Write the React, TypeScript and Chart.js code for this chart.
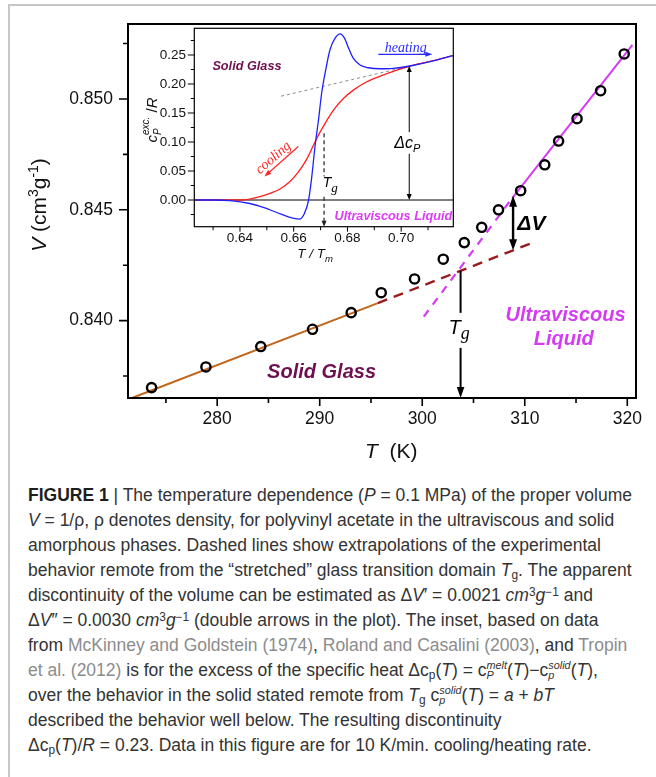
import React, { useEffect, useRef } from 'react';
import { Chart, registerables } from 'chart.js';

Chart.register(...registerables);

const SANS = '"Liberation Sans", Arial, Helvetica, sans-serif';
const SERIF = '"Liberation Serif", "Times New Roman", serif';

// ---------------- main panel data ----------------
const temperatureK = [273.6, 278.9, 284.25, 289.3, 293.07, 296.0, 299.25, 302.05, 304.1, 305.8, 307.44, 309.6, 311.95, 313.3, 315.1, 317.4, 319.7];
const specificVolume = [0.83698, 0.83791, 0.83883, 0.83961, 0.84036, 0.84126, 0.84188, 0.84277, 0.84352, 0.84421, 0.845, 0.84586, 0.84703, 0.8481, 0.84911, 0.85037, 0.85203];
const glassFitT = [271.74, 295.67];
const glassFitV = [0.83652, 0.84079];
const glassExtrapT = [295.67, 310.9];
const glassExtrapV = [0.84079, 0.84354];
const liquidFitT = [308.78, 320.5];
const liquidFitV = [0.84553, 0.85244];
const liquidExtrapT = [300.15, 308.78];
const liquidExtrapV = [0.84018, 0.84553];

const xRangeMain = [271.3, 320.85];
const yRangeMain = [0.83651, 0.85338];
const xTicksMain = [275, 280, 285, 290, 295, 300, 305, 310, 315, 320];
const xLabelsMain = [280, 290, 300, 310, 320];
const yTicksMain = [0.8375, 0.84, 0.8425, 0.845, 0.8475, 0.85, 0.8525];
const yLabelsMain = [0.84, 0.845, 0.85];

// annotations (data coordinates)
const tgArrowT = 303.74;
const tgArrowV = [0.84225, 0.84035, 0.83877];
const deltaVT = 308.86;
const deltaVV = [0.84318, 0.84563];
const solidGlassAt = [290.18, 0.83774];
const ultraviscousAt = [313.98, 0.8403];
const liquidAt = [313.81, 0.83922];
const deltaVLabelAt = [309.27, 0.84441];
const tgLabelAt = [302.57, 0.83972];

// ---------------- inset data ----------------
const heatX = [0.623, 0.63, 0.6363, 0.6437, 0.6487, 0.6537, 0.6586, 0.662, 0.6639, 0.6655, 0.6667, 0.6679, 0.6692, 0.6704, 0.6719, 0.6735, 0.6754, 0.6773, 0.6789, 0.6804, 0.6822, 0.6847, 0.6878, 0.6922, 0.6971, 0.7033, 0.7108, 0.7192];
const heatCp = [0, 0, -0.001, -0.006, -0.0128, -0.0215, -0.03, -0.033, -0.024, -0.001, 0.039, 0.091, 0.137, 0.184, 0.224, 0.259, 0.279, 0.2864, 0.279, 0.262, 0.244, 0.2327, 0.228, 0.2263, 0.227, 0.231, 0.2384, 0.2488];
const coolX = [0.623, 0.635, 0.64, 0.6437, 0.6475, 0.6512, 0.6549, 0.6586, 0.6617, 0.6649, 0.6673, 0.6698, 0.6723, 0.6748, 0.6785, 0.6822, 0.6872, 0.6922, 0.6984, 0.7046, 0.712, 0.7192];
const coolCp = [0, 0, 0, 0.0017, 0.0057, 0.0115, 0.019, 0.032, 0.048, 0.071, 0.094, 0.117, 0.137, 0.155, 0.175, 0.1894, 0.2038, 0.2136, 0.224, 0.2327, 0.2401, 0.2488];
const liquidBaseX = [0.6553, 0.7033];
const liquidBaseCp = [0.179, 0.231];
const zeroLineX = [0.623, 0.7194];
const zeroLineCp = [0, 0];

const xRangeInset = [0.623, 0.7194];
const yRangeInset = [-0.046, 0.296];
const xTicksInset = [0.63, 0.64, 0.65, 0.66, 0.67, 0.68, 0.69, 0.7, 0.71];
const xLabelsInset = [0.64, 0.66, 0.68, 0.7];
const yTicksInset = [-0.025, 0, 0.025, 0.05, 0.075, 0.1, 0.125, 0.15, 0.175, 0.2, 0.225, 0.25, 0.275];
const yLabelsInset = [0, 0.05, 0.1, 0.15, 0.2, 0.25];

const insetTgX = 0.6713;
const insetTgCp = [0.115, 0.0404, 0.0057];
const insetDcpX = 0.703;
const insetDcpCp = [0.231, 0.117, 0.0797, 0];
const insetDcpLabelAt = [0.7023, 0.0998];
const insetTgLabelAt = [0.6708, 0.0305];
const heatingArrowX = [0.6915, 0.7116];
const heatingArrowCp = 0.2512;
const heatingLabelAt = [0.7017, 0.2625];
const coolingArrow = [0.6617, 0.0923, 0.6491, 0.0404];
const coolingLabelAt = [0.6522, 0.0738];
const insetSolidAt = [0.6426, 0.2315];
const insetLiquidAt = [0.6971, -0.0272];

// ---------------- helpers ----------------
const pts = (xs: number[], ys: number[]) => xs.map((x, i) => ({ x, y: ys[i] }));
const isIn = (v: number, arr: number[]) => arr.some((m) => Math.abs(m - v) < 1e-9);

type Run = { t?: string; font: string; dy?: number; stack?: [string, string, number, number] };

function runsWidth(ctx: CanvasRenderingContext2D, runs: Run[]) {
  let w = 0;
  for (const r of runs) {
    ctx.font = r.font;
    if (r.stack) w += Math.max(ctx.measureText(r.stack[0]).width, ctx.measureText(r.stack[1]).width);
    else w += ctx.measureText(r.t || '').width;
  }
  return w;
}

function drawRuns(ctx: CanvasRenderingContext2D, runs: Run[], x: number, y: number) {
  let cx = x;
  ctx.textAlign = 'left';
  ctx.textBaseline = 'alphabetic';
  for (const r of runs) {
    ctx.font = r.font;
    if (r.stack) {
      ctx.fillText(r.stack[0], cx, y + r.stack[2]);
      ctx.fillText(r.stack[1], cx, y + r.stack[3]);
      cx += Math.max(ctx.measureText(r.stack[0]).width, ctx.measureText(r.stack[1]).width);
    } else {
      ctx.fillText(r.t || '', cx, y + (r.dy || 0));
      cx += ctx.measureText(r.t || '').width;
    }
  }
}

function head(ctx: CanvasRenderingContext2D, tx: number, ty: number, ang: number, len: number, half: number) {
  const c = Math.cos(ang), s = Math.sin(ang);
  const bx = tx - len * c, by = ty - len * s;
  ctx.beginPath();
  ctx.moveTo(tx, ty);
  ctx.lineTo(bx - half * s, by + half * c);
  ctx.lineTo(bx + half * s, by - half * c);
  ctx.closePath();
  ctx.fill();
}

function line(ctx: CanvasRenderingContext2D, x1: number, y1: number, x2: number, y2: number) {
  ctx.beginPath();
  ctx.moveTo(x1, y1);
  ctx.lineTo(x2, y2);
  ctx.stroke();
}

const MAROON = '#6e1050';
const MAGENTA = '#d43cf2';

const mainDecor = {
  id: 'mainDecor',
  afterDraw(chart: any) {
    const { ctx, chartArea: a } = chart;
    const x = chart.scales.x, y = chart.scales.y;
    ctx.save();
    ctx.strokeStyle = '#000';
    ctx.fillStyle = '#000';
    ctx.lineWidth = 2;
    ctx.strokeRect(a.left, a.top, a.right - a.left, a.bottom - a.top);
    ctx.lineWidth = 1.6;
    ctx.beginPath();
    xTicksMain.forEach((v) => {
      const p = x.getPixelForValue(v);
      const len = isIn(v, xLabelsMain) ? 8 : 5;
      ctx.moveTo(p, a.bottom);
      ctx.lineTo(p, a.bottom + len);
    });
    yTicksMain.forEach((v) => {
      const p = y.getPixelForValue(v);
      const len = isIn(v, yLabelsMain) ? 9 : 5;
      ctx.moveTo(a.left, p);
      ctx.lineTo(a.left - len, p);
    });
    ctx.stroke();

    // Tg arrow
    const tx = x.getPixelForValue(tgArrowT);
    ctx.lineWidth = 2;
    line(ctx, tx, y.getPixelForValue(tgArrowV[0]), tx, y.getPixelForValue(tgArrowV[1]));
    line(ctx, tx, y.getPixelForValue(tgArrowV[2]), tx, a.bottom - 8);
    head(ctx, tx, a.bottom, Math.PI / 2, 11, 3.8);

    // delta V double arrow
    const dx = x.getPixelForValue(deltaVT);
    const yb = y.getPixelForValue(deltaVV[0]);
    const yt = y.getPixelForValue(deltaVV[1]);
    ctx.lineWidth = 2.4;
    line(ctx, dx, yt + 8, dx, yb - 8);
    head(ctx, dx, yt, -Math.PI / 2, 11, 4);
    head(ctx, dx, yb, Math.PI / 2, 11, 4);

    // labels
    ctx.textBaseline = 'alphabetic';
    ctx.textAlign = 'center';
    ctx.fillStyle = MAROON;
    ctx.font = `italic bold 20px ${SANS}`;
    ctx.fillText('Solid Glass', x.getPixelForValue(solidGlassAt[0]), y.getPixelForValue(solidGlassAt[1]) + 7.2);
    ctx.fillStyle = MAGENTA;
    ctx.fillText('Ultraviscous', x.getPixelForValue(ultraviscousAt[0]), y.getPixelForValue(ultraviscousAt[1]) + 7.2);
    ctx.fillText('Liquid', x.getPixelForValue(liquidAt[0]), y.getPixelForValue(liquidAt[1]) + 7.2);

    ctx.fillStyle = '#000';
    ctx.textAlign = 'left';
    ctx.font = `italic bold 21px ${SANS}`;
    ctx.fillText('\u0394V', x.getPixelForValue(deltaVLabelAt[0]), y.getPixelForValue(deltaVLabelAt[1]) + 7.6);

    drawRuns(ctx, [
      { t: 'T', font: `italic 20px ${SANS}` },
      { t: 'g', font: `italic 18px ${SERIF}`, dy: 5 },
    ], x.getPixelForValue(tgLabelAt[0]), y.getPixelForValue(tgLabelAt[1]) + 7);

    // axis titles
    ctx.fillStyle = '#111';
    drawRuns(ctx, [
      { t: 'T', font: `italic 21px ${SANS}` },
      { t: '  (K)', font: `21px ${SANS}` },
    ], 365, 457.6);

    const yRuns: Run[] = [
      { t: 'V', font: `italic 21px ${SANS}` },
      { t: ' (cm', font: `21px ${SANS}` },
      { t: '3', font: `14px ${SANS}`, dy: -8 },
      { t: 'g', font: `21px ${SANS}` },
      { t: '-1', font: `14px ${SANS}`, dy: -8 },
      { t: ')', font: `21px ${SANS}` },
    ];
    ctx.save();
    ctx.translate(38, 205);
    ctx.rotate(-Math.PI / 2);
    const w = runsWidth(ctx, yRuns);
    drawRuns(ctx, yRuns, -w / 2, 7.5);
    ctx.restore();

    ctx.restore();
  },
};

const insetDecor = {
  id: 'insetDecor',
  afterDraw(chart: any) {
    const { ctx, chartArea: a } = chart;
    const x = chart.scales.x, y = chart.scales.y;
    ctx.save();
    ctx.strokeStyle = '#000';
    ctx.fillStyle = '#000';
    ctx.lineWidth = 1.2;
    ctx.strokeRect(a.left, a.top, a.right - a.left, a.bottom - a.top);
    ctx.lineWidth = 1;
    ctx.beginPath();
    xTicksInset.forEach((v) => {
      const p = x.getPixelForValue(v);
      const len = isIn(v, xLabelsInset) ? 5 : 3.5;
      ctx.moveTo(p, a.bottom);
      ctx.lineTo(p, a.bottom + len);
    });
    yTicksInset.forEach((v) => {
      const p = y.getPixelForValue(v);
      const len = isIn(v, yLabelsInset) ? 6.5 : 3.5;
      ctx.moveTo(a.left, p);
      ctx.lineTo(a.left - len, p);
    });
    ctx.stroke();

    // Tg dashed arrow
    const gx = x.getPixelForValue(insetTgX);
    ctx.strokeStyle = '#222';
    ctx.fillStyle = '#222';
    ctx.lineWidth = 1.2;
    ctx.setLineDash([4, 3]);
    line(ctx, gx, y.getPixelForValue(insetTgCp[0]), gx, y.getPixelForValue(insetTgCp[1]));
    line(ctx, gx, y.getPixelForValue(insetTgCp[2]), gx, a.bottom - 5);
    ctx.setLineDash([]);
    head(ctx, gx, a.bottom, Math.PI / 2, 6, 2.5);

    // delta cp double arrow
    const cx = x.getPixelForValue(insetDcpX);
    ctx.strokeStyle = '#000';
    ctx.fillStyle = '#000';
    ctx.lineWidth = 1;
    const c0 = y.getPixelForValue(insetDcpCp[0]);
    const c3 = y.getPixelForValue(insetDcpCp[3]);
    line(ctx, cx, c0 + 5, cx, y.getPixelForValue(insetDcpCp[1]));
    line(ctx, cx, y.getPixelForValue(insetDcpCp[2]), cx, c3 - 5);
    head(ctx, cx, c0, -Math.PI / 2, 6, 2.5);
    head(ctx, cx, c3, Math.PI / 2, 6, 2.5);

    const dRuns: Run[] = [
      { t: '\u0394c', font: `italic 16px ${SANS}` },
      { t: 'P', font: `italic 11px ${SANS}`, dy: 4 },
    ];
    const dw = runsWidth(ctx, dRuns);
    drawRuns(ctx, dRuns, x.getPixelForValue(insetDcpLabelAt[0]) - dw / 2, y.getPixelForValue(insetDcpLabelAt[1]) + 5.8);

    drawRuns(ctx, [
      { t: 'T', font: `italic 14px ${SANS}` },
      { t: 'g', font: `italic 13px ${SERIF}`, dy: 5 },
    ], x.getPixelForValue(insetTgLabelAt[0]), y.getPixelForValue(insetTgLabelAt[1]) + 5);

    // heating
    ctx.strokeStyle = '#2a2aff';
    ctx.fillStyle = '#2a2aff';
    ctx.lineWidth = 1.2;
    const hy = y.getPixelForValue(heatingArrowCp);
    const hx1 = x.getPixelForValue(heatingArrowX[0]);
    const hx2 = x.getPixelForValue(heatingArrowX[1]);
    line(ctx, hx1, hy, hx2 - 5, hy);
    head(ctx, hx2, hy, 0, 7, 2.5);
    ctx.font = `italic 14px ${SERIF}`;
    ctx.textAlign = 'center';
    ctx.fillText('heating', x.getPixelForValue(heatingLabelAt[0]), y.getPixelForValue(heatingLabelAt[1]) + 4.6);

    // cooling
    ctx.strokeStyle = '#ff2424';
    ctx.fillStyle = '#ff2424';
    const ax1 = x.getPixelForValue(coolingArrow[0]), ay1 = y.getPixelForValue(coolingArrow[1]);
    const ax2 = x.getPixelForValue(coolingArrow[2]), ay2 = y.getPixelForValue(coolingArrow[3]);
    const ang = Math.atan2(ay2 - ay1, ax2 - ax1);
    line(ctx, ax1, ay1, ax2 - 5 * Math.cos(ang), ay2 - 5 * Math.sin(ang));
    head(ctx, ax2, ay2, ang, 7, 2.5);
    ctx.save();
    ctx.translate(x.getPixelForValue(coolingLabelAt[0]), y.getPixelForValue(coolingLabelAt[1]));
    ctx.rotate(-41 * Math.PI / 180);
    ctx.font = `italic 14px ${SERIF}`;
    ctx.textAlign = 'center';
    ctx.fillText('cooling', 0, 4.6);
    ctx.restore();

    // region labels
    ctx.textAlign = 'center';
    ctx.font = `italic bold 12.7px ${SANS}`;
    ctx.fillStyle = MAROON;
    ctx.fillText('Solid Glass', x.getPixelForValue(insetSolidAt[0]), y.getPixelForValue(insetSolidAt[1]) + 4.6);
    ctx.fillStyle = '#dc3cf6';
    ctx.fillText('Ultraviscous Liquid', x.getPixelForValue(insetLiquidAt[0]), y.getPixelForValue(insetLiquidAt[1]) + 4.6);

    // titles
    ctx.fillStyle = '#111';
    const tRuns: Run[] = [
      { t: 'T / T', font: `italic 13.5px ${SANS}` },
      { t: 'm', font: `italic 9.5px ${SANS}`, dy: 4 },
    ];
    const tw = runsWidth(ctx, tRuns);
    drawRuns(ctx, tRuns, 183 - tw / 2, 232);

    const cRuns: Run[] = [
      { t: 'c', font: `italic 15px ${SANS}` },
      { font: `italic 10px ${SANS}`, stack: ['exc.', 'P', -8, 4] },
      { t: ' /', font: `15px ${SANS}` },
      { t: 'R', font: `italic 15px ${SANS}` },
    ];
    ctx.save();
    ctx.translate(25, 94);
    ctx.rotate(-Math.PI / 2);
    const cw = runsWidth(ctx, cRuns);
    drawRuns(ctx, cRuns, -cw / 2, 0);
    ctx.restore();

    ctx.restore();
  },
};

const Sup = ({ children }: any) => (
  <span style={{ fontSize: '0.68em', verticalAlign: '0.45em', lineHeight: 0 }}>{children}</span>
);
const Sub = ({ children }: any) => (
  <span style={{ fontSize: '0.68em', verticalAlign: '-0.25em', lineHeight: 0 }}>{children}</span>
);
const Stack = ({ sup, sub }: { sup: string; sub: string }) => (
  <span style={{ display: 'inline-block', verticalAlign: '-0.32em', lineHeight: '0.95em', fontSize: '0.62em', fontStyle: 'italic', textAlign: 'left' }}>
    <span style={{ display: 'block' }}>{sup}</span>
    <span style={{ display: 'block' }}>{sub}</span>
  </span>
);
const Ref = ({ children }: any) => <span style={{ color: '#8c8c8c' }}>{children}</span>;

const captionLines: any[] = [
  <><b style={{ color: '#1e1e1e' }}>FIGURE 1</b> | The temperature dependence (<i>P</i> = 0.1 MPa) of the proper volume</>,
  <><i>V</i> = 1/ρ, ρ denotes density, for polyvinyl acetate in the ultraviscous and solid</>,
  <>amorphous phases. Dashed lines show extrapolations of the experimental</>,
  <>behavior remote from the “stretched” glass transition domain <i>T</i><Sub>g</Sub>. The apparent</>,
  <>discontinuity of the volume can be estimated as Δ<i>V</i>′ = 0.0021 <i>cm</i><Sup>3</Sup><i>g</i><Sup>−1</Sup> and</>,
  <>Δ<i>V</i>″ = 0.0030 <i>cm</i><Sup>3</Sup><i>g</i><Sup>−1</Sup> (double arrows in the plot). The inset, based on data</>,
  <>from <Ref>McKinney and Goldstein (1974)</Ref>, <Ref>Roland and Casalini (2003)</Ref>, and <Ref>Tropin</Ref></>,
  <><Ref>et al. (2012)</Ref> is for the excess of the specific heat Δc<Sub>p</Sub>(<i>T</i>) = c<Stack sup="melt" sub="P" />(<i>T</i>)−c<Stack sup="solid" sub="p" />(<i>T</i>),</>,
  <>over the behavior in the solid stated remote from <i>T</i><Sub>g</Sub> c<Stack sup="solid" sub="p" />(<i>T</i>) = <i>a</i> + <i>bT</i></>,
  <>described the behavior well below. The resulting discontinuity</>,
  <>Δc<Sub>p</Sub>(<i>T</i>)/<i>R</i> = 0.23. Data in this figure are for 10 K/min. cooling/heating rate.</>,
];

export default function App() {
  const mainRef = useRef<HTMLCanvasElement>(null);
  const insetRef = useRef<HTMLCanvasElement>(null);

  useEffect(() => {
    const tickFont = { family: SANS, size: 17.5 };
    const main = new Chart(mainRef.current as HTMLCanvasElement, {
      type: 'scatter',
      data: {
        datasets: [
          { data: pts(temperatureK, specificVolume), showLine: false, pointRadius: 4.6, pointBorderWidth: 2.4, pointBorderColor: '#000', pointBackgroundColor: 'rgba(0,0,0,0)', borderColor: '#000' } as any,
          { data: pts(glassFitT, glassFitV), showLine: true, pointRadius: 0, borderColor: '#c0661c', borderWidth: 2 },
          { data: pts(glassExtrapT, glassExtrapV), showLine: true, pointRadius: 0, borderColor: '#991b1e', borderWidth: 2.4, borderDash: [10, 7] },
          { data: pts(liquidFitT, liquidFitV), showLine: true, pointRadius: 0, borderColor: MAGENTA, borderWidth: 2 },
          { data: pts(liquidExtrapT, liquidExtrapV), showLine: true, pointRadius: 0, borderColor: MAGENTA, borderWidth: 2.2, borderDash: [8, 7] },
        ],
      },
      options: {
        responsive: false,
        animation: false,
        layout: { padding: { top: 24, right: 20, left: 0, bottom: 0 } },
        plugins: { legend: { display: false }, tooltip: { enabled: false } },
        scales: {
          x: {
            type: 'linear',
            min: xRangeMain[0],
            max: xRangeMain[1],
            grid: { display: false, drawTicks: false },
            border: { display: false },
            afterBuildTicks: (s: any) => { s.ticks = xTicksMain.map((v) => ({ value: v })); },
            afterFit: (s: any) => { s.height = 72; s.paddingLeft = 0; s.paddingRight = 0; s.paddingTop = 0; s.paddingBottom = 0; },
            ticks: {
              autoSkip: false, maxRotation: 0, padding: 10.5, color: '#111', font: tickFont,
              callback: (v: any) => (isIn(Number(v), xLabelsMain) ? String(v) : ''),
            },
          },
          y: {
            type: 'linear',
            min: yRangeMain[0],
            max: yRangeMain[1],
            grid: { display: false, drawTicks: false },
            border: { display: false },
            afterBuildTicks: (s: any) => { s.ticks = yTicksMain.map((v) => ({ value: v })); },
            afterFit: (s: any) => { s.width = 128; s.paddingLeft = 0; s.paddingRight = 0; s.paddingTop = 0; s.paddingBottom = 0; },
            ticks: {
              autoSkip: false, padding: 15, color: '#111', font: tickFont,
              callback: (v: any) => (isIn(Number(v), yLabelsMain) ? Number(v).toFixed(3) : ''),
            },
          },
        },
      } as any,
      plugins: [mainDecor],
    });

    const insetFont = { family: SANS, size: 13.5 };
    const inset = new Chart(insetRef.current as HTMLCanvasElement, {
      type: 'scatter',
      data: {
        datasets: [
          { data: pts(heatX, heatCp), showLine: true, pointRadius: 0, borderColor: '#2020ff', borderWidth: 1.3, cubicInterpolationMode: 'monotone' } as any,
          { data: pts(coolX, coolCp), showLine: true, pointRadius: 0, borderColor: '#ff1e1e', borderWidth: 1.3, cubicInterpolationMode: 'monotone' },
          { data: pts(liquidBaseX, liquidBaseCp), showLine: true, pointRadius: 0, borderColor: '#8a8a8a', borderWidth: 1, borderDash: [3, 3] },
          { data: pts(zeroLineX, zeroLineCp), showLine: true, pointRadius: 0, borderColor: '#000', borderWidth: 1 },
        ],
      },
      options: {
        responsive: false,
        animation: false,
        layout: { padding: { top: 2.3, right: 4.7, left: 0, bottom: 0 } },
        plugins: { legend: { display: false }, tooltip: { enabled: false } },
        scales: {
          x: {
            type: 'linear',
            min: xRangeInset[0],
            max: xRangeInset[1],
            grid: { display: false, drawTicks: false },
            border: { display: false },
            afterBuildTicks: (s: any) => { s.ticks = xTicksInset.map((v) => ({ value: v })); },
            afterFit: (s: any) => { s.height = 39.3; s.paddingLeft = 0; s.paddingRight = 0; s.paddingTop = 0; s.paddingBottom = 0; },
            ticks: {
              autoSkip: false, maxRotation: 0, padding: 3.5, color: '#111', font: insetFont,
              callback: (v: any) => (isIn(Number(v), xLabelsInset) ? Number(v).toFixed(2) : ''),
            },
          },
          y: {
            type: 'linear',
            min: yRangeInset[0],
            max: yRangeInset[1],
            grid: { display: false, drawTicks: false },
            border: { display: false },
            afterBuildTicks: (s: any) => { s.ticks = yTicksInset.map((v) => ({ value: v })); },
            afterFit: (s: any) => { s.width = 62.3; s.paddingLeft = 0; s.paddingRight = 0; s.paddingTop = 0; s.paddingBottom = 0; },
            ticks: {
              autoSkip: false, padding: 8.3, color: '#111', font: insetFont,
              callback: (v: any) => (isIn(Number(v), yLabelsInset) ? Number(v).toFixed(2) : ''),
            },
          },
        },
      } as any,
      plugins: [insetDecor],
    });

    return () => {
      main.destroy();
      inset.destroy();
    };
  }, []);

  return (
    <div style={{ position: 'absolute', left: 0, top: 0, width: 656, height: 777, overflow: 'hidden', background: '#fff' }}>
      <div style={{ position: 'absolute', left: 8, top: 4, width: 700, height: 800, borderTop: '2px solid #c6c6c6', borderLeft: '2px solid #c6c6c6' }} />
      <canvas ref={mainRef} width={656} height={470} style={{ position: 'absolute', left: 0, top: 0, width: 656, height: 470 }} />
      <canvas ref={insetRef} width={326} height={240} style={{ position: 'absolute', left: 132, top: 26, width: 326, height: 240 }} />
      {captionLines.map((content, i) => (
        <div
          key={i}
          style={{
            position: 'absolute', left: 28, top: 482.5 + 25 * i, height: 25, lineHeight: '25px',
            whiteSpace: 'nowrap', fontFamily: SANS, fontSize: 17.5, color: '#333',
          }}
        >
          {content}
        </div>
      ))}
    </div>
  );
}
